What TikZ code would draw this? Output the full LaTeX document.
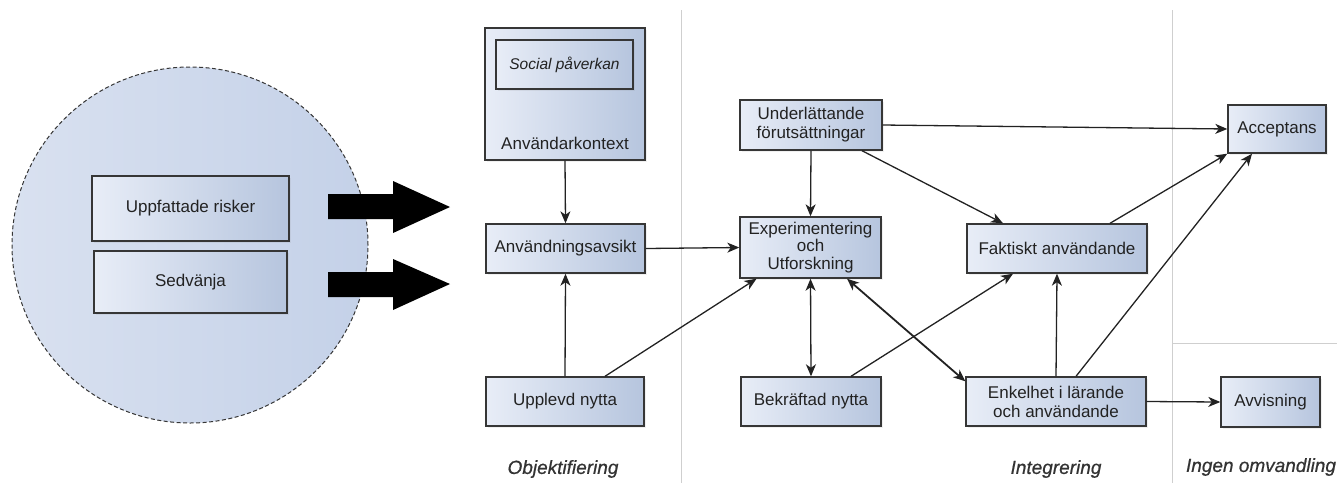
\documentclass[tikz,border=0pt]{standalone}
\usepackage{fontspec}
\setmainfont{Liberation Sans}
\usetikzlibrary{arrows.meta,shadows}
\definecolor{boxL}{HTML}{E8EDF7}
\definecolor{boxR}{HTML}{B6C5DE}
\definecolor{ringL}{HTML}{D9E1F0}
\definecolor{ringR}{HTML}{C4D1E8}
\definecolor{ink}{HTML}{222222}
\definecolor{edge}{HTML}{363636}
\definecolor{rule}{HTML}{CFCFCF}
\definecolor{phase}{HTML}{333333}
\newfontfamily\phasefont[FakeBold=0.6]{Liberation Sans}
\begin{document}
\begin{tikzpicture}[x=1pt,y=-1pt,
  box/.style={draw=edge, line width=1.4pt, left color=boxL, right color=boxR,
    inner sep=2pt, align=center, text=ink, font=\fontsize{17}{19}\selectfont,
    drop shadow={opacity=0.12, shadow xshift=1.5pt, shadow yshift=-1.5pt}},
  tip/.style={},
  flow/.style={draw=ink, line width=1.3pt, -{Stealth[length=12pt,width=10pt,inset=3.5pt]}},
  both/.style={draw=ink, line width=1.3pt,
    {Stealth[length=12pt,width=10pt,inset=3.5pt]}-{Stealth[length=12pt,width=10pt,inset=3.5pt]}},
  divider/.style={draw=rule, line width=0.9pt},
  phaselbl/.style={text=phase, font=\phasefont\fontsize{19}{21}\selectfont\itshape},
  blockarrow/.style={fill=black}
]
\useasboundingbox (0,0) rectangle (1337,483);

% phase dividers
\coordinate (d1t) at (681,10);
\coordinate (d1b) at (681,483);
\coordinate (d2t) at (1172,10);
\coordinate (d2b) at (1172,483);
\coordinate (hl) at (1172,343);
\coordinate (hr) at (1337,343);
\draw[divider] (d1t) -- (d1b);
\draw[divider] (d2t) -- (d2b);
\draw[divider] (hl) -- (hr);

% external factors
\node[circle, draw=edge, line width=1pt, dash pattern=on 4pt off 2.5pt,
      left color=ringL, right color=ringR, minimum size=356pt, inner sep=0pt] (ring) at (190,245) {};
\node[box, minimum width=197pt, minimum height=65pt] (risk) at (190.5,208.5) {Uppfattade risker};
\node[box, minimum width=193pt, minimum height=62pt] (sed) at (190.5,282) {Sedvänja};

% block arrows
\fill[blockarrow] (328,194) -- (393,194) -- (393,181) -- (450,207) -- (393,233) -- (393,219) -- (328,219) -- cycle;
\fill[blockarrow] (328,272) -- (393,272) -- (393,259) -- (450,284) -- (393,310) -- (393,297) -- (328,297) -- cycle;

% objectification
\node[box, minimum width=160pt, minimum height=132pt] (kontext) at (565,94) {};
\node[box, minimum width=137pt, minimum height=49pt,
      font=\fontsize{15.5}{18}\selectfont\itshape] (social) at (564.5,64.5) {Social påverkan};
\node[text=ink, font=\fontsize{17}{19}\selectfont] (kontextlbl) at (565,143) {Användarkontext};
\node[box, minimum width=159pt, minimum height=49pt] (avsikt) at (565.5,248.5) {Användningsavsikt};
\node[box, minimum width=158pt, minimum height=49pt] (upplevd) at (565,401.5) {Upplevd nytta};

% integration
\node[box, minimum width=142pt, minimum height=50pt] (underl) at (811,125) {Underlättande\\förutsättningar};
\node[box, minimum width=141pt, minimum height=61pt, font=\fontsize{17}{17.5}\selectfont] (exp) at (810.5,247.5) {Experimentering\\och\\Utforskning};
\node[box, minimum width=140pt, minimum height=49pt] (bekr) at (811,401.5) {Bekräftad nytta};
\node[box, minimum width=180pt, minimum height=49pt] (fakt) at (1057,248.5) {Faktiskt användande};
\node[box, minimum width=180pt, minimum height=49pt] (enkel) at (1056,401.5) {Enkelhet i lärande\\och användande};

% outcome
\node[box, minimum width=98pt, minimum height=48pt] (accept) at (1277,129) {Acceptans};
\node[box, minimum width=99pt, minimum height=50pt] (avvis) at (1270.5,402) {Avvisning};

% phase labels
\node[phaselbl] (objlbl) at (563,469) {Objektifiering};
\node[phaselbl] (intlbl) at (1056,469) {Integrering};
\node[phaselbl] (ingenlbl) at (1261,467) {Ingen omvandling};

% connectors
\draw[flow] (kontext.south) -- (avsikt.north);
\draw[flow] (upplevd.north) -- (avsikt.south);
\draw[flow] ([xshift=40pt]upplevd.north) -- ([xshift=-54pt]exp.south);
\draw[flow] (avsikt.east) -- (exp.west);
\draw[flow] (underl.south) -- (exp.north);
\draw[flow] ([xshift=51pt]underl.south) -- ([xshift=-54pt]fakt.north);
\draw[flow] (underl.east) -- (accept.west);
\draw[both] (exp.south) -- (bekr.north);
\draw[both, line width=1.8pt] ([xshift=36.5pt]exp.south) -- ([yshift=-5pt]enkel.north west);
\draw[flow] ([xshift=40pt]bekr.north) -- ([xshift=-44pt]fakt.south);
\draw[flow] (enkel.north) -- (fakt.south);
\draw[flow] ([xshift=20pt]enkel.north) -- ([xshift=-25pt]accept.south);
\draw[flow] ([xshift=53pt]fakt.north) -- (accept.south west);
\draw[flow] (enkel.east) -- (avvis.west);
\end{tikzpicture}
\end{document}
